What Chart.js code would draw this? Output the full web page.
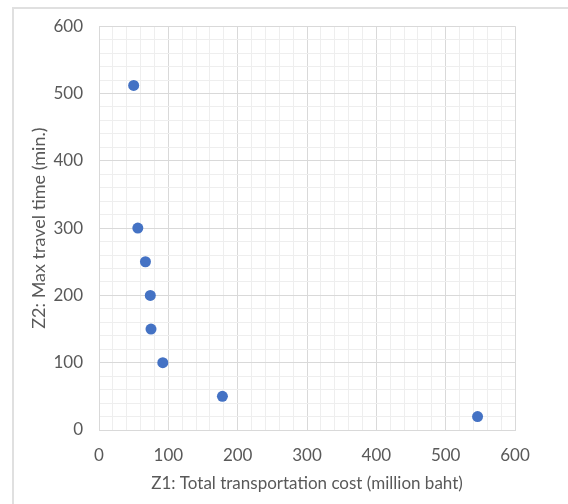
<!DOCTYPE html>
<html>
<head>
<meta charset="utf-8">
<script src="https://cdn.jsdelivr.net/npm/chart.js@4/dist/chart.umd.min.js"></script>
<style>
  html, body { margin: 0; padding: 0; background: #ffffff; }
  #frame {
    position: absolute; left: 12px; top: 7px; width: 600px; height: 600px;
    border-left: 2px solid #e0e0e0; border-top: 2px solid #e0e0e0;
  }
  #wrap { position: absolute; left: 0; top: 0; width: 568px; height: 504px; }
</style>
</head>
<body>
<div id="frame"></div>
<div id="wrap"><canvas id="c" width="568" height="504"></canvas></div>
<script>
// Trade-off between total transportation cost (Z1) and maximum travel time (Z2)
const costMillionBaht = [50, 56, 67, 74, 75, 92, 178, 546];
const maxTravelMin    = [512, 300, 250, 200, 150, 100, 50, 20];
const xTitle = 'Z1: Total transportation cost (million baht)';
const yTitle = 'Z2: Max travel time (min.)';
const axisMin = 0, axisMax = 600, majorStep = 100, minorStep = 20;

const points = costMillionBaht.map((x, i) => ({ x: x, y: maxTravelMin[i] }));

const FONT = 'Lato, "Liberation Sans", Arial, sans-serif';
const TEXT = '#595959';

const gridColor = ctx => (ctx.tick && ctx.tick.value % majorStep === 0) ? '#d9d9d9' : '#eeeeee';
const tickLabel = v => (v % majorStep === 0 ? String(v) : '');

new Chart(document.getElementById('c'), {
  type: 'scatter',
  data: {
    datasets: [{
      data: points,
      backgroundColor: '#4472C4',
      borderWidth: 0,
      pointRadius: 5.5,
      pointHoverRadius: 5.5
    }]
  },
  options: {
    responsive: false,
    animation: false,
    events: [],
    layout: { padding: { left: 0, top: 26, right: 53, bottom: 0 } },
    plugins: { legend: { display: false }, tooltip: { enabled: false } },
    scales: {
      x: {
        type: 'linear', min: axisMin, max: axisMax,
        afterFit: s => { s.height = 74; },
        grid: { color: gridColor, drawTicks: false, lineWidth: 1 },
        border: { color: '#d9d9d9' },
        ticks: {
          stepSize: minorStep, autoSkip: false, maxRotation: 0,
          padding: 15, color: TEXT, font: { family: FONT, size: 17 },
          callback: tickLabel
        },
        title: {
          display: true, text: xTitle, color: TEXT,
          font: { family: FONT, size: 17 }, padding: { top: 0, bottom: 10 }
        }
      },
      y: {
        type: 'linear', min: axisMin, max: axisMax,
        afterFit: s => { s.width = 99; },
        grid: { color: gridColor, drawTicks: false, lineWidth: 1 },
        border: { color: '#d9d9d9' },
        ticks: {
          stepSize: minorStep, autoSkip: false,
          padding: 16, color: TEXT, font: { family: FONT, size: 17 },
          callback: tickLabel
        },
        title: {
          display: true, text: yTitle, color: TEXT,
          font: { family: FONT, size: 18 }, padding: { top: 28, bottom: 0 }
        }
      }
    }
  }
});
</script>
</body>
</html>
